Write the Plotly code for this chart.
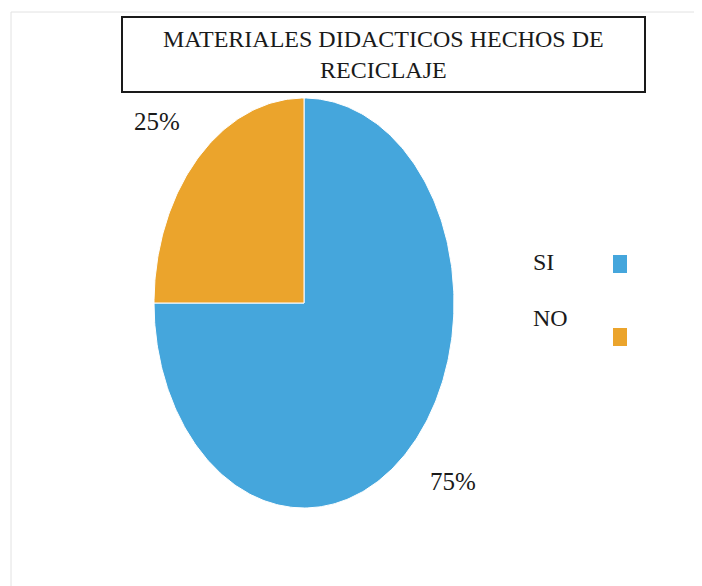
import numpy as np
import plotly.graph_objects as go

# ---- data ----
categories = ["SI", "NO"]
values = [75, 25]
percent_labels = ["75%", "25%"]
title_lines = ["MATERIALES DIDACTICOS HECHOS DE", "RECICLAJE"]

# ---- styles ----
colors = ["#45A6DC", "#EBA42C"]
W, H = 702, 586
OFF = 8  # default page body margin
CX, CY, RX, RY = 304 - OFF, 303 - OFF, 150, 205  # figure-pixel centre and radii of the stretched pie
FONT = "Liberation Serif"
label_shift = [(11, 10), (-9, -7)]  # fine tuning of the outside labels (pixels)


def px(x):
    return (x - OFF) / W


def py(y):
    return 1 - (y - OFF) / H


fig = go.Figure()

total = sum(values)
start = 0.0
annotations = []
for i, (cat, v) in enumerate(zip(categories, values)):
    frac = v / total
    th = np.linspace(start, start + frac * 2 * np.pi, max(int(frac * 400), 10))
    xs = np.concatenate([[0], np.sin(th), [0]])
    ys = np.concatenate([[0], np.cos(th), [0]])
    fig.add_trace(go.Scatter(
        x=xs, y=ys, mode="lines", fill="toself", fillcolor=colors[i],
        line=dict(color="white", width=1), name=cat, hoverinfo="name",
        showlegend=False,
    ))
    mid = start + frac * np.pi
    r = 1.3
    annotations.append(dict(
        x=r * np.sin(mid), y=r * np.cos(mid), xref="x", yref="y",
        text=percent_labels[i], showarrow=False,
        xshift=label_shift[i][0], yshift=label_shift[i][1],
        font=dict(family=FONT, size=25, color="#1a1a1a"),
    ))
    start += frac * 2 * np.pi

# title (boxed)
annotations.append(dict(
    x=px(383), y=py(55), xref="paper", yref="paper",
    text="<br>".join(title_lines), showarrow=False,
    font=dict(family=FONT, size=24, color="#1a1a1a"),
    xanchor="center", yanchor="middle",
))

# legend (text left, square right)
legend_text_y = [262, 318]
legend_sq_y = [264, 337]
shapes = []
for i, cat in enumerate(categories):
    annotations.append(dict(
        x=px(531), y=py(legend_text_y[i]), xref="paper", yref="paper",
        text=cat, showarrow=False, xanchor="left", yanchor="middle",
        font=dict(family=FONT, size=24, color="#1a1a1a"),
    ))
    shapes.append(dict(
        type="rect", xref="paper", yref="paper",
        x0=px(613), x1=px(627), y0=py(legend_sq_y[i] - 9), y1=py(legend_sq_y[i] + 9),
        fillcolor=colors[i], line=dict(width=0),
    ))

# title box
shapes.append(dict(
    type="rect", xref="paper", yref="paper",
    x0=px(122), x1=px(645), y0=py(17), y1=py(92),
    line=dict(color="#1a1a1a", width=2), fillcolor="rgba(0,0,0,0)",
))
# faint outer chart frame
shapes.append(dict(
    type="rect", xref="paper", yref="paper",
    x0=px(11), x1=px(699), y0=py(12), y1=py(600),
    line=dict(color="#e2e2e2", width=1), fillcolor="rgba(0,0,0,0)", layer="below",
))

fig.update_layout(
    width=W, height=H, autosize=False,
    margin=dict(l=0, r=0, t=0, b=0),
    paper_bgcolor="white", plot_bgcolor="white",
    xaxis=dict(range=[-CX / RX, (W - CX) / RX], visible=False, fixedrange=True),
    yaxis=dict(range=[(CY - H) / RY, CY / RY], visible=False, fixedrange=True),
    annotations=annotations, shapes=shapes, showlegend=False,
)

fig.write_html("out.html")
